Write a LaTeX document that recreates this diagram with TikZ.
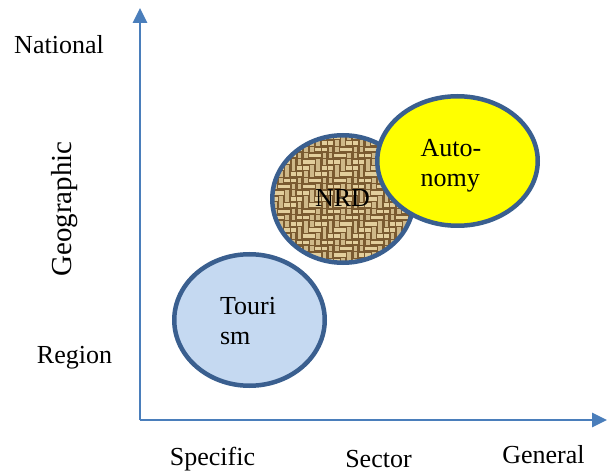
\documentclass[tikz,border=0pt]{standalone}
\usepackage{fontspec}
\setmainfont{Liberation Serif}
\usetikzlibrary{shapes.geometric,arrows.meta}

\definecolor{axisblue}{HTML}{4A7EBB}
\definecolor{rimblue}{HTML}{3A5F8F}
\definecolor{tourfill}{HTML}{C5D9F1}
\definecolor{autofill}{HTML}{FFFF00}
\definecolor{burlapdark}{HTML}{7A5A30}
\definecolor{burlaplight}{HTML}{E2CE9C}

\tikzset{
  axisline/.style={draw=axisblue, line width=2.8pt,
    -{Triangle[length=15pt,width=14pt]}},
  blob/.style={ellipse, draw=rimblue, line width=4.5pt, inner sep=0pt},
  lbl/.style={font=\fontsize{26}{30}\selectfont, inner sep=0pt, anchor=base},
  inlbl/.style={font=\fontsize{26}{30}\selectfont, inner sep=0pt, align=left},
  % woven sack-cloth fill (twill-like strands)
  burlap/.style={fill=burlapdark, path picture={
    \begin{scope}[shift={(path picture bounding box.center)}]
      \foreach \i in {-13,...,13}{
        \foreach \j in {-12,...,12}{
          \pgfmathtruncatemacro\wv{mod(\i+\j+80,4)}
          \ifnum\wv<2
            \draw[burlaplight, line width=3.6pt] (\i*6.2-2.8,\j*6.2) -- (\i*6.2+2.8,\j*6.2);
          \else
            \draw[burlaplight!82!burlapdark, line width=3.6pt] (\i*6.2,\j*6.2-2.8) -- (\i*6.2,\j*6.2+2.8);
          \fi
        }
      }
    \end{scope}}},
}

\begin{document}
\begin{tikzpicture}[x=1pt, y=-1pt]
  \useasboundingbox (0,0) rectangle (608,473);

  % axes
  \coordinate (origin) at (140,420);
  \coordinate (ytip) at (140,8);
  \coordinate (xtip) at (607,420);
  \draw[axisline] (origin) -- (ytip);
  \draw[axisline] (origin) -- (xtip);

  % circles
  \node[blob, fill=tourfill, minimum width=150.5pt, minimum height=131.5pt] (tour) at (249.5,320) {};
  \node[blob, burlap, minimum width=141.5pt, minimum height=127.5pt] (nrd) at (343,199) {};
  \node[blob, fill=autofill, minimum width=160.5pt, minimum height=129.5pt] (auto) at (457.5,161) {};

  % circle texts
  \node[inlbl] (tourtxt) at (248,321.5) {Touri\\sm};
  \node[lbl] (nrdtxt) at (342.5,207) {NRD};
  \node[inlbl] (autotxt) at (451,166) {Auto-\\nomy};

  % axis labels
  \node[lbl] (national) at (59,54) {National};
  \node[lbl] (region) at (74.5,363) {Region};
  \node[lbl, font=\fontsize{29}{34}\selectfont, rotate=90] (geo) at (71,209) {Geographic};
  \node[lbl] (specific) at (212.5,465) {Specific};
  \node[lbl] (sector) at (378.5,467) {Sector};
  \node[lbl] (general) at (543.5,463) {General};
\end{tikzpicture}
\end{document}
